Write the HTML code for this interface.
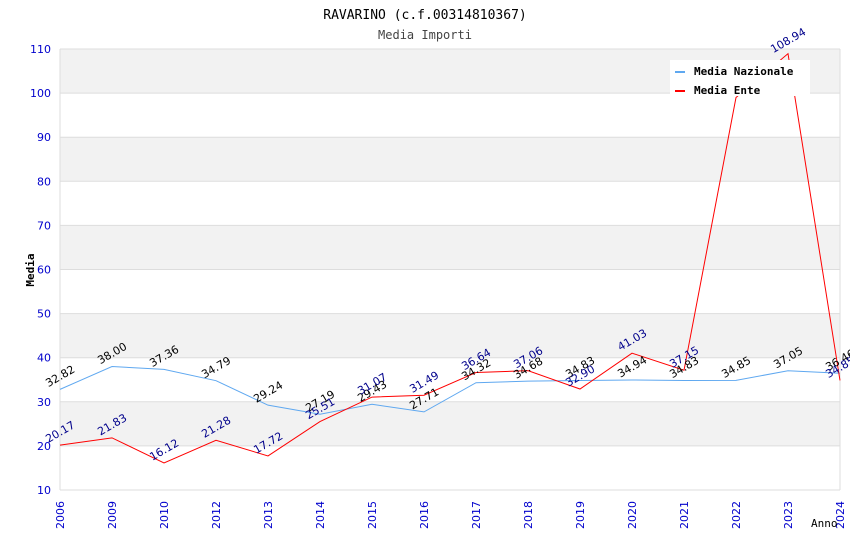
<!DOCTYPE html>
<html><head><meta charset="utf-8"><style>
body{margin:0;background:#fff;}
svg{display:block;font-family:"DejaVu Sans","Liberation Sans",sans-serif;}
</style></head><body>
<svg id="chart" width="850" height="550">
<text x="425" y="19" text-anchor="middle" font-family="DejaVu Sans Mono, monospace" font-size="13">RAVARINO (c.f.00314810367)</text>
<text x="425" y="39" text-anchor="middle" font-family="DejaVu Sans Mono, monospace" font-size="12" fill="#444">Media Importi</text>
<g id="bands"></g><g id="grid"></g><g id="axes"></g><g id="series"></g><g id="labels"></g>
<text transform="translate(34,270) rotate(-90)" text-anchor="middle" font-family="DejaVu Sans Mono, monospace" font-size="11" font-weight="bold">Media</text>
<text x="811" y="527" font-family="DejaVu Sans Mono, monospace" font-size="11">Anno</text>
<g>
<rect x="670" y="60" width="140" height="36" fill="#fff"/>
<rect x="675" y="71" width="10" height="2" fill="#5fa8f0"/>
<text x="694" y="75" font-family="DejaVu Sans Mono, monospace" font-size="11" font-weight="bold">Media Nazionale</text>
<rect x="675" y="90" width="10" height="2" fill="#f00"/>
<text x="694" y="94" font-family="DejaVu Sans Mono, monospace" font-size="11" font-weight="bold">Media Ente</text>
</g>
</svg>
<script>
const years=["2006","2009","2010","2012","2013","2014","2015","2016","2017","2018","2019","2020","2021","2022","2023","2024"];
const nazionale=[32.82,38.00,37.36,34.79,29.24,27.19,29.43,27.71,34.32,34.68,34.83,34.94,34.83,34.85,37.05,36.46];
const ente=[20.17,21.83,16.12,21.28,17.72,25.51,31.07,31.49,36.64,37.06,32.90,41.03,37.15,99.0,108.94,34.85];
const yTicks=[10,20,30,40,50,60,70,80,90,100,110];
const NS="http://www.w3.org/2000/svg";
const X0=60,X1=840,Y0=490,Y1=49;
const xs=i=>X0+i*(X1-X0)/(years.length-1);
const ys=v=>Y0-(v-10)*(Y0-Y1)/100;
function mk(t,a,p){const e=document.createElementNS(NS,t);for(const k in a)e.setAttribute(k,a[k]);document.getElementById(p).appendChild(e);return e;}
for(let i=0;i<yTicks.length-1;i++){
 mk('rect',{x:X0,y:ys(yTicks[i+1]),width:X1-X0,height:ys(yTicks[i])-ys(yTicks[i+1]),fill:i%2===1?'#f2f2f2':'#fff'},'bands');
}
yTicks.forEach(v=>{
 const l=mk('line',{x1:X0,x2:X1,y1:ys(v),y2:ys(v),stroke:'#ddd'},'grid');
 
 
 const t=mk('text',{x:X0-9,y:ys(v)+4,'text-anchor':'end','font-size':11,fill:'#00c'},'axes');t.textContent=v;
 
 
});
mk('line',{x1:X0,x2:X0,y1:Y1,y2:Y0,stroke:'#ddd'},'axes');
mk('line',{x1:X1,x2:X1,y1:Y1,y2:Y0,stroke:'#ddd'},'axes');
years.forEach((y,i)=>{
 const t=mk('text',{transform:`translate(${xs(i)+4},${Y0+39}) rotate(-90)`,'font-size':11,fill:'#00c'},'axes');t.textContent=y;
 
 
});
function series(d,color,name,lc){
 const p=mk('polyline',{points:d.map((v,i)=>xs(i)+','+ys(v)).join(' '),fill:'none',stroke:color,'stroke-width':1},'series');
 
 
 d.forEach((v,i)=>{
  const t=mk('text',{transform:`translate(${xs(i)+2},${ys(v)-10}) rotate(-30)`,'text-anchor':'middle','font-size':11,fill:lc},'labels');
  t.textContent=v.toFixed(2);
  
  
 });
}
series(nazionale,'#5fa8f0','series-media-nazionale','#000');
series(ente,'#f00','series-media-ente','#00008b');
</script>
</body></html>
